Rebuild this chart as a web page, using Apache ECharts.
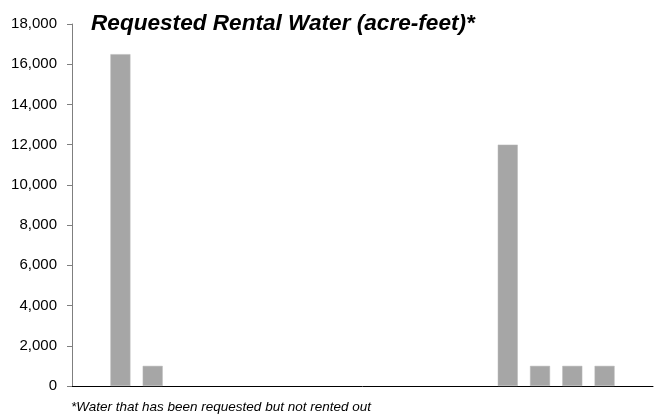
<!DOCTYPE html>
<html>
<head>
<meta charset="utf-8">
<script src="https://cdn.jsdelivr.net/npm/echarts@6/dist/echarts.min.js"></script>
<style>
html,body{margin:0;padding:0;background:#fff;}
#chart{width:663px;height:416px;}
</style>
</head>
<body>
<div id="chart"></div>
<script>
const categories = ['1','2','3','4','5','6','7','8','9','10','11','12','13','14','15','16','17','18'];
const requestedWater = [null,16500,1000,null,null,null,null,null,null,null,null,null,null,12000,1000,1000,1000,null];
const yTicks = [0,2000,4000,6000,8000,10000,12000,14000,16000,18000];

const chart = echarts.init(document.getElementById('chart'), null, {renderer:'canvas'});
chart.setOption({
  animation:false,
  backgroundColor:'#ffffff',
  title:[{
    text:'Requested Rental Water (acre-feet)*',
    left:86, top:7,
    textStyle:{fontFamily:'Liberation Sans, Arial, sans-serif',fontSize:22.6,fontWeight:'bold',fontStyle:'italic',color:'#000'}
  },{
    text:'*Water that has been requested but not rented out',
    left:66, top:395,
    textStyle:{fontFamily:'Liberation Sans, Arial, sans-serif',fontSize:13.5,fontWeight:'normal',fontStyle:'italic',color:'#000'}
  }],
  grid:{left:72,right:10,top:24,bottom:30,containLabel:false},
  xAxis:{
    type:'category',
    data:categories,
    axisLine:{show:true,lineStyle:{color:'#000',width:1}},
    axisTick:{show:false},
    axisLabel:{show:false}
  },
  yAxis:{
    type:'value',
    min:yTicks[0], max:yTicks[yTicks.length-1], interval:2000,
    axisLine:{show:true,lineStyle:{color:'#7f7f7f',width:1}},
    axisTick:{show:true,length:5,lineStyle:{color:'#7f7f7f'}},
    splitLine:{show:false},
    axisLabel:{
      margin:15,
      fontFamily:'Liberation Sans, Arial, sans-serif',fontSize:15,color:'#000',
      formatter:v=>v.toLocaleString('en-US')
    }
  },
  series:[{
    type:'bar',
    data:requestedWater,
    barWidth:20,
    itemStyle:{color:'#a6a6a6',borderColor:'#b8b8b8',borderWidth:0.5}
  }]
});
</script>
</body>
</html>
